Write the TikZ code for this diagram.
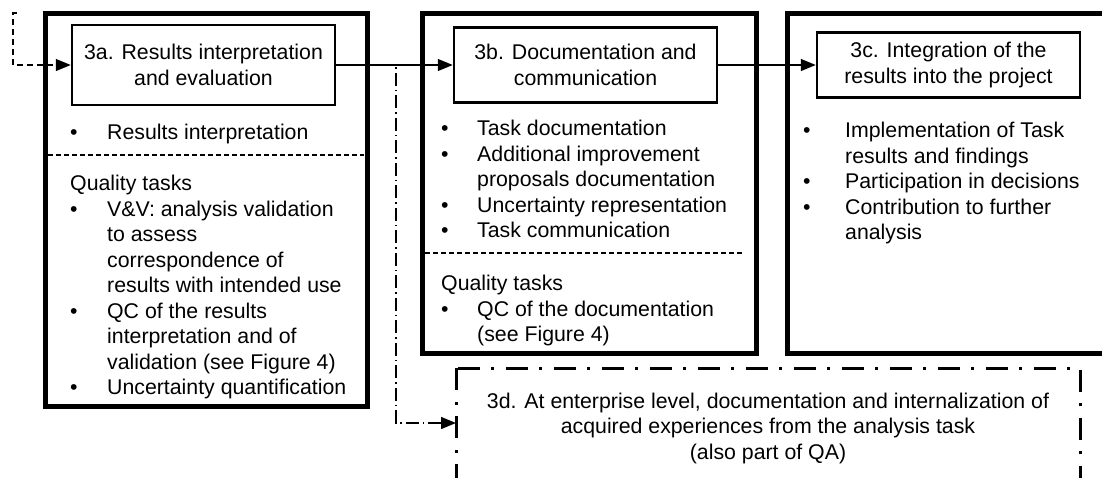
\documentclass[tikz,border=0pt]{standalone}
\usepackage{fontspec}
\setmainfont{Liberation Sans}
\usetikzlibrary{positioning,arrows.meta}

\newcommand{\boxfont}{\fontsize{21.3}{25.5}\selectfont}
\newcommand{\tasklines}[2]{\begin{tabular}[t]{@{}p{#1}@{}l@{}}#2\end{tabular}}

\tikzset{
	phase/.style={draw, line width=5pt},
	stepbox/.style={draw, line width=2.5pt, align=center, minimum width=263pt, inner sep=0pt, font=\boxfont},
	tasklist/.style={anchor=base west, inner sep=0pt, font=\boxfont},
	flow/.style={line width=1.3pt, -{Triangle[length=15pt,width=12pt]}},
	sepline/.style={line width=1.2pt, dash pattern=on 5pt off 3pt},
	loopline/.style={flow, dash pattern=on 6pt off 4pt},
	qaline/.style={flow, dash pattern=on 13pt off 4pt on 1.5pt off 4pt},
	qabox/.style={draw, line width=3pt, dash pattern=on 22pt off 12pt on 3pt off 11pt}
}

\begin{document}
\begin{tikzpicture}[x=1pt,y=-1pt]
	\useasboundingbox (0,0) rectangle (1102,477);

	% outer frames
	\draw[phase] (45,13) rectangle (367,406);
	\draw[phase] (422,13) rectangle (756,353);
	\draw[phase] (787,13) rectangle (1125,353);
	\draw[qabox] (456,368) rectangle (1080,500);

	\node[stepbox, minimum height=80pt] (step3a) at (203.5,65) {3a. Results interpretation\\and evaluation};
	\node[stepbox, minimum height=75pt] (step3b) at (585.5,65) {3b. Documentation and\\communication};
	\node[stepbox, minimum height=65pt] (step3c) at (948.5,65) {3c. Integration of the\\results into the project};
	\node[font=\boxfont, align=center] (step3d) at (768,428) {3d. At enterprise level, documentation and internalization of\\acquired experiences from the analysis task\\(also part of QA)};

	% 3a
	\node[tasklist] (listA) at (70,139.5) {\tasklines{37pt}{\textbullet & Results interpretation}};
	\draw[sepline] (48,155) -- (364,155);
	\node[tasklist] (qualA) at (70,190.5) {\tasklines{37pt}{
		\multicolumn{2}{@{}l@{}}{Quality tasks}\\
		\textbullet & V\&V: analysis validation\\
		& to assess\\
		& correspondence of\\
		& results with intended use\\
		\textbullet & QC of the results\\
		& interpretation and of\\
		& validation (see Figure 4)\\
		\textbullet & Uncertainty quantification}};

	% 3b
	\node[tasklist] (listB) at (441,135.5) {\tasklines{36pt}{
		\textbullet & Task documentation\\
		\textbullet & Additional improvement\\
		& proposals documentation\\
		\textbullet & Uncertainty representation\\
		\textbullet & Task communication}};
	\draw[sepline] (425,253) -- (743,253);
	\node[tasklist] (qualB) at (441,290.5) {\tasklines{36pt}{
		\multicolumn{2}{@{}l@{}}{Quality tasks}\\
		\textbullet & QC of the documentation\\
		& (see Figure 4)}};

	% 3c
	\node[tasklist] (listC) at (803,137.5) {\tasklines{42pt}{
		\textbullet & Implementation of Task\\
		& results and findings\\
		\textbullet & Participation in decisions\\
		\textbullet & Contribution to further\\
		& analysis}};

	% connectors
	\coordinate (loopin) at (17,13);
	\coordinate (turn) at (396,65);
	\coordinate (din) at (456,423);
	\draw[loopline] (loopin) -- (13,13) |- (step3a.west);
	\draw[qaline] (step3a.east) -- (turn) |- (din);
	\draw[flow] (step3a.east) -- (step3b.west);
	\draw[flow] (step3b.east) -- (step3c.west);
\end{tikzpicture}
\end{document}
